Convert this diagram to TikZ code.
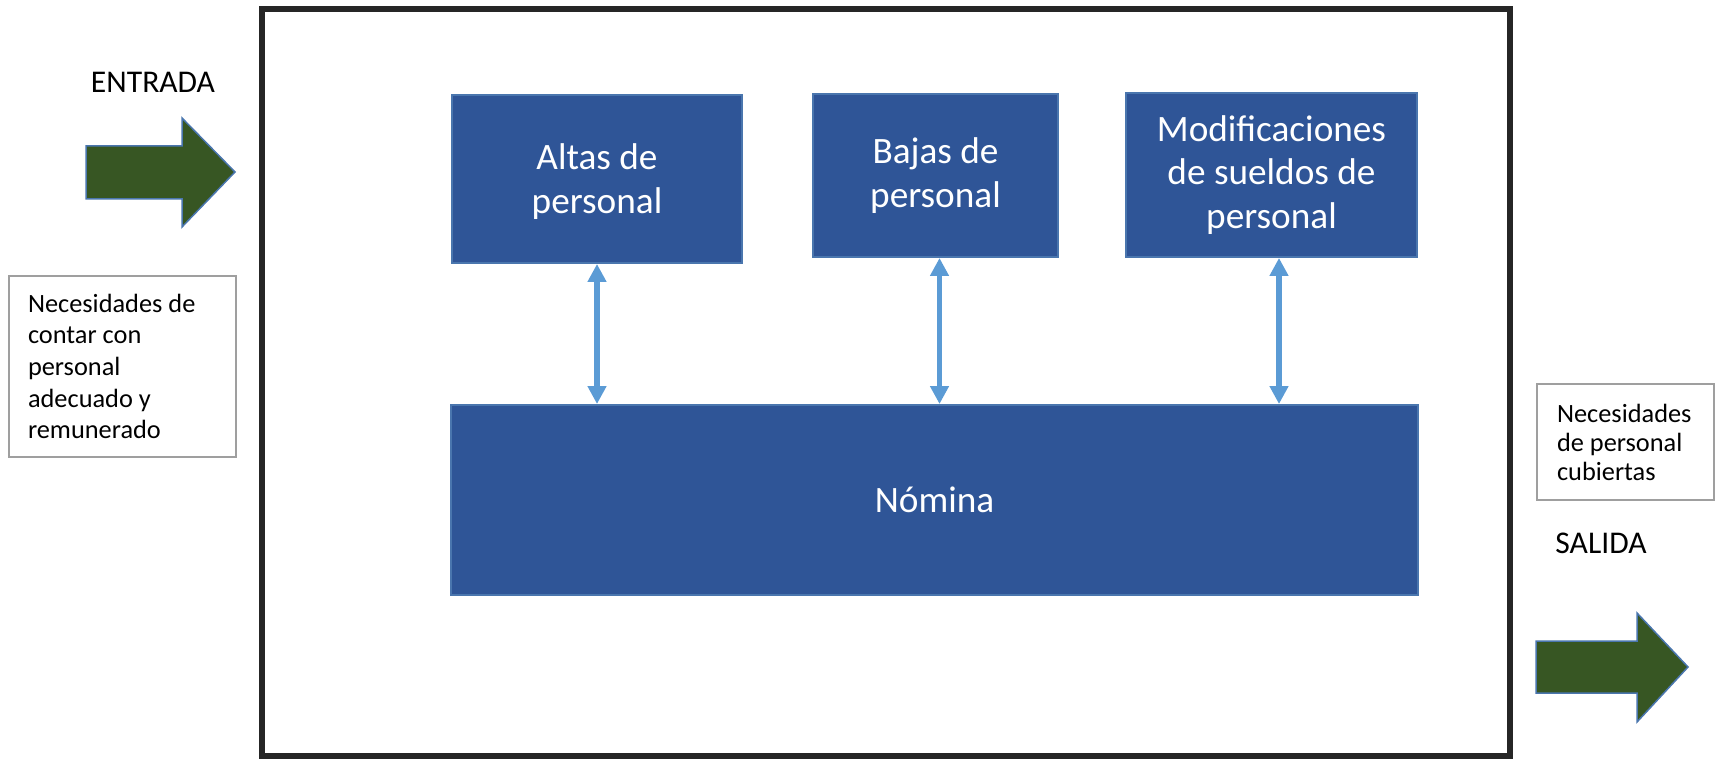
\documentclass[tikz,border=0pt]{standalone}
\usepackage{xcolor}
\usepackage{fontspec}
\setmainfont{Carlito}
\usepackage{tikz}
\usetikzlibrary{arrows.meta}

\definecolor{boxblue}{HTML}{2F5597}
\definecolor{boxedge}{HTML}{4A76AE}
\definecolor{linkblue}{HTML}{5B9BD5}
\definecolor{arrowgreen}{HTML}{375623}
\definecolor{framegray}{HTML}{262626}

\begin{document}
\begin{tikzpicture}[x=0.02cm,y=-0.02cm,
    proc/.style={draw=boxedge,line width=0.04cm,fill=boxblue,text=white,align=center,
      font=\fontsize{21.2}{25}\selectfont,inner sep=0pt},
    note/.style={draw=gray!75,line width=0.03cm,align=flush left,anchor=center,
      font=\fontsize{15}{18}\selectfont},
    bigarrow/.style={draw=boxedge,line width=0.03cm,fill=arrowgreen},
    link/.style={draw=linkblue,line width=0.11cm,
      {Triangle[length=0.36cm,width=0.36cm]}-{Triangle[length=0.36cm,width=0.36cm]}},
    label/.style={font=\fontsize{18}{21}\selectfont}]
\useasboundingbox (0,0) rectangle (1719,759);

% marco del sistema
\draw[framegray,line width=0.12cm] (262,9) rectangle (1510,756);

% entrada
\node[label] (entrada) at (153,82) {ENTRADA};
\draw[bigarrow] (86,146) -- (182,146) -- (182,118) -- (235,172) -- (182,227) -- (182,199) -- (86,199) -- cycle;
\node[note,text width=3.78cm,inner xsep=0.38cm,minimum height=3.62cm] (necesidad) at (122.5,366.5)
  {Necesidades de\\contar con\\personal\\adecuado y\\remunerado};

% procesos
\node[proc,minimum width=5.82cm,minimum height=3.36cm,text depth=-0.04cm] (altas) at (597,179) {Altas de\\personal};
\node[proc,minimum width=4.9cm,minimum height=3.26cm] (bajas) at (935.5,175.5) {Bajas de\\personal};
\node[proc,minimum width=5.82cm,minimum height=3.28cm] (modif) at (1271.5,175) {Modificaciones\\de sueldos de\\personal};
\node[proc,minimum width=19.34cm,minimum height=3.8cm] (nomina) at (934.5,500) {Nómina};

\draw[link] (altas.south) -- (altas.south |- nomina.north);
\draw[link] ([xshift=0.08cm]bajas.south) -- ([xshift=0.08cm]bajas.south |- nomina.north);
\draw[link] ([xshift=0.15cm]modif.south) -- ([xshift=0.15cm]modif.south |- nomina.north);

% salida
\node[note,text width=2.74cm,inner xsep=0.4cm,minimum height=2.32cm,
  font=\fontsize{15}{16.5}\selectfont] (cubiertas) at (1625.5,442)
  {Necesidades\\de personal\\cubiertas};
\node[label] (salida) at (1601,543) {SALIDA};
\draw[bigarrow] (1536,641) -- (1637,641) -- (1637,613) -- (1688,667) -- (1637,722) -- (1637,693) -- (1536,693) -- cycle;
\end{tikzpicture}
\end{document}
